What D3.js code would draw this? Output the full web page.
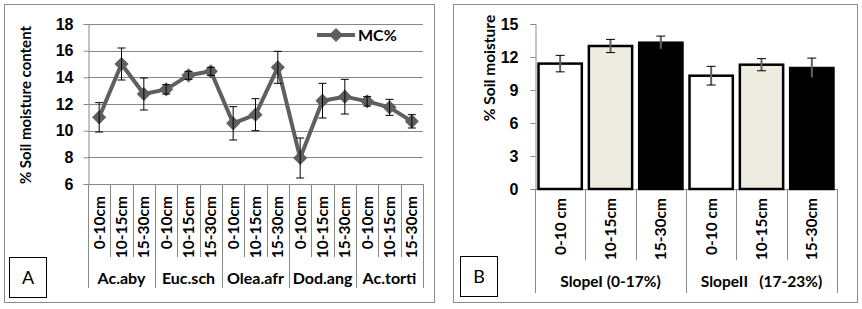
<!DOCTYPE html>
<html>
<head>
<meta charset="utf-8">
<title>Soil moisture</title>
<style>
	body { margin: 0; background: #fff; }
	svg { display: block; font-family: Lato, "Open Sans", sans-serif; }
</style>
</head>
<body>
<svg width="862" height="309"></svg>
<script src="https://cdn.jsdelivr.net/npm/d3@7"></script>
<script>
	// panel A data
	const speciesA = ["Ac.aby", "Euc.sch", "Olea.afr", "Dod.ang", "Ac.torti"]
	const depthsA = ["0-10cm", "10-15cm", "15-30cm"]
	const mcA = [11.0, 15.0, 12.75, 13.1, 14.15, 14.45, 10.55, 11.2, 14.75, 7.95, 12.25, 12.55, 12.2, 11.75, 10.7]
	const errA = [1.1, 1.2, 1.2, 0.35, 0.3, 0.3, 1.25, 1.2, 1.2, 1.5, 1.3, 1.3, 0.35, 0.6, 0.5]
	const ticksA = [6, 8, 10, 12, 14, 16, 18]

	// panel B data
	const slopesB = ["SlopeI (0-17%)", "SlopeII   (17-23%)"]
	const depthsB = ["0-10 cm", "10-15cm", "15-30cm"]
	const valsB = [11.4, 13.0, 13.3, 10.3, 11.3, 11.0]
	const errB = [0.75, 0.6, 0.6, 0.85, 0.55, 0.9]
	const ticksB = [0, 3, 6, 9, 12, 15]
	const fillsB = ["#ffffff", "#eeebe1", "#000000"]

	const svg = d3.select("svg")
	const gridCol = "#888"

	// frames
	svg.append("rect").attr("x", 4.5).attr("y", 4.5).attr("width", 430).attr("height", 298)
		.attr("fill", "none").attr("stroke", "#8c8c8c")
	svg.append("rect").attr("x", 453.5).attr("y", 4.5).attr("width", 404).attr("height", 298)
		.attr("fill", "none").attr("stroke", "#8c8c8c")

	// ---------- panel A ----------
	{
		const keys = d3.range(speciesA.length * depthsA.length)
		const x = d3.scaleBand().domain(keys).range([88, 423])
		const y = d3.scaleLinear().domain([6, 18]).range([184, 24])
		const g = svg.append("g")

		g.selectAll(".grid").data(ticksA).enter().append("line")
			.attr("x1", 88).attr("x2", 423)
			.attr("y1", d => Math.round(y(d)) + 0.5).attr("y2", d => Math.round(y(d)) + 0.5)
			.attr("stroke", gridCol)

		const ya = g.append("g").attr("transform", "translate(88.5,0)")
			.call(d3.axisLeft(y).tickValues(ticksA).tickSize(5).tickPadding(10))
		ya.select(".domain").attr("stroke", gridCol)
		ya.selectAll(".tick line").attr("stroke", gridCol)
		ya.selectAll("text").attr("font-size", 16).attr("font-weight", "bold").attr("fill", "#000")

		// category separators
		keys.concat([keys.length]).forEach(i => {
			const xx = Math.round(i < keys.length ? x(i) : x.range()[1]) + 0.5
			const major = i % 3 === 0
			g.append("line").attr("x1", xx).attr("x2", xx).attr("y1", 184).attr("y2", major ? 288 : 257)
				.attr("stroke", gridCol)
		})

		keys.forEach(i => {
			g.append("text")
				.attr("transform", `translate(${x(i) + x.bandwidth() / 2 + 5.5},196) rotate(-90)`)
				.attr("text-anchor", "end").attr("font-size", 15.5).attr("font-weight", "bold")
				.text(depthsA[i % 3])
		})
		speciesA.forEach((s, j) => {
			g.append("text")
				.attr("x", (x(j * 3) + (j < 4 ? x(j * 3 + 3) : x.range()[1])) / 2).attr("y", 284)
				.attr("text-anchor", "middle").attr("font-size", 16).attr("font-weight", "bold")
				.text(s)
		})

		// line + markers
		const cx = i => x(i) + x.bandwidth() / 2
		g.append("path").datum(mcA)
			.attr("d", d3.line().x((d, i) => cx(i)).y(d => y(d)))
			.attr("fill", "none").attr("stroke", "#5f5f5f").attr("stroke-width", 4).attr("stroke-linejoin", "round")
		g.selectAll(".mk").data(mcA).enter().append("path")
			.attr("transform", (d, i) => `translate(${cx(i)},${y(d)}) rotate(45)`)
			.attr("d", "M-5,-5H5V5H-5Z").attr("fill", "#5f5f5f")

		// error bars
		mcA.forEach((v, i) => {
			const x0 = cx(i), e = errA[i]
			g.append("line").attr("x1", x0).attr("x2", x0).attr("y1", y(v - e)).attr("y2", y(v + e))
				.attr("stroke", "#000")
			;[v - e, v + e].forEach(t => g.append("line")
				.attr("x1", x0 - 4).attr("x2", x0 + 4).attr("y1", y(t)).attr("y2", y(t)).attr("stroke", "#000"))
		})

		// legend
		g.append("line").attr("x1", 317).attr("x2", 355).attr("y1", 35).attr("y2", 35)
			.attr("stroke", "#5f5f5f").attr("stroke-width", 4)
		g.append("path").attr("transform", "translate(336,35) rotate(45)")
			.attr("d", "M-5,-5H5V5H-5Z").attr("fill", "#5f5f5f")
		g.append("text").attr("x", 358).attr("y", 41).attr("font-size", 16).attr("font-weight", "bold")
			.text("MC%")

		// y title
		g.append("text").attr("transform", "translate(31,105) rotate(-90)")
			.attr("text-anchor", "middle").attr("font-size", 15).attr("font-weight", "bold")
			.text("% Soil moisture content")

		// panel letter
		g.append("rect").attr("x", 9.5).attr("y", 257.5).attr("width", 37).attr("height", 40)
			.attr("fill", "#fff").attr("stroke", "#000")
		g.append("text").attr("x", 28).attr("y", 284).attr("text-anchor", "middle").attr("font-size", 18)
			.text("A")
	}

	// ---------- panel B ----------
	{
		const keys = d3.range(slopesB.length * depthsB.length)
		const x = d3.scaleBand().domain(keys).range([535, 837]).paddingInner(0.14).paddingOuter(0.07)
		const xs = d3.scaleBand().domain(keys).range([535, 837])
		const y = d3.scaleLinear().domain([0, 15]).range([189, 24])
		const g = svg.append("g")

		const ya = g.append("g").attr("transform", "translate(535.5,0)")
			.call(d3.axisLeft(y).tickValues(ticksB).tickSize(5).tickPadding(12))
		ya.select(".domain").attr("stroke", gridCol)
		ya.selectAll(".tick line").attr("stroke", gridCol)
		ya.selectAll("text").attr("font-size", 16).attr("font-weight", "bold").attr("fill", "#000")

		g.append("line").attr("x1", 535).attr("x2", 837).attr("y1", 189.5).attr("y2", 189.5).attr("stroke", gridCol)
		keys.concat([keys.length]).forEach(i => {
			const xx = Math.round(i < keys.length ? xs(i) : xs.range()[1]) + 0.5
			const major = i % 3 === 0
			g.append("line").attr("x1", xx).attr("x2", xx).attr("y1", 189).attr("y2", major ? 293 : 260)
				.attr("stroke", gridCol)
		})

		g.selectAll(".bar").data(valsB).enter().append("rect")
			.attr("x", (d, i) => x(i)).attr("width", x.bandwidth())
			.attr("y", d => y(d)).attr("height", d => y(0) - y(d))
			.attr("fill", (d, i) => fillsB[i % 3]).attr("stroke", "#000").attr("stroke-width", 2.5)

		valsB.forEach((v, i) => {
			const x0 = xs(i) + xs.bandwidth() / 2, e = errB[i]
			g.append("line").attr("x1", x0).attr("x2", x0).attr("y1", y(v - e)).attr("y2", y(v + e))
				.attr("stroke", "#606060").attr("stroke-width", 2)
			;[v - e, v + e].forEach(t => g.append("line")
				.attr("x1", x0 - 4.5).attr("x2", x0 + 4.5).attr("y1", y(t)).attr("y2", y(t)).attr("stroke", "#000"))
		})

		keys.forEach(i => {
			g.append("text")
				.attr("transform", `translate(${xs(i) + xs.bandwidth() / 2 + 5.5},198) rotate(-90)`)
				.attr("text-anchor", "end").attr("font-size", 15.5).attr("font-weight", "bold")
				.text(depthsB[i % 3])
		})
		slopesB.forEach((s, j) => {
			g.append("text")
				.attr("x", (xs(j * 3) + (j < 1 ? xs(j * 3 + 3) : xs.range()[1])) / 2).attr("y", 287)
				.attr("text-anchor", "middle").attr("font-size", 15.5).attr("font-weight", "bold")
				.attr("xml:space", "preserve").style("white-space", "pre")
				.text(s)
		})

		g.append("text").attr("transform", "translate(495,68) rotate(-90)")
			.attr("text-anchor", "middle").attr("font-size", 15.5).attr("font-weight", "bold")
			.text("% Soil moisture")

		g.append("rect").attr("x", 460.5).attr("y", 256.5).attr("width", 37).attr("height", 40)
			.attr("fill", "#fff").attr("stroke", "#000")
		g.append("text").attr("x", 479).attr("y", 283).attr("text-anchor", "middle").attr("font-size", 18)
			.text("B")
	}
</script>
</body>
</html>
